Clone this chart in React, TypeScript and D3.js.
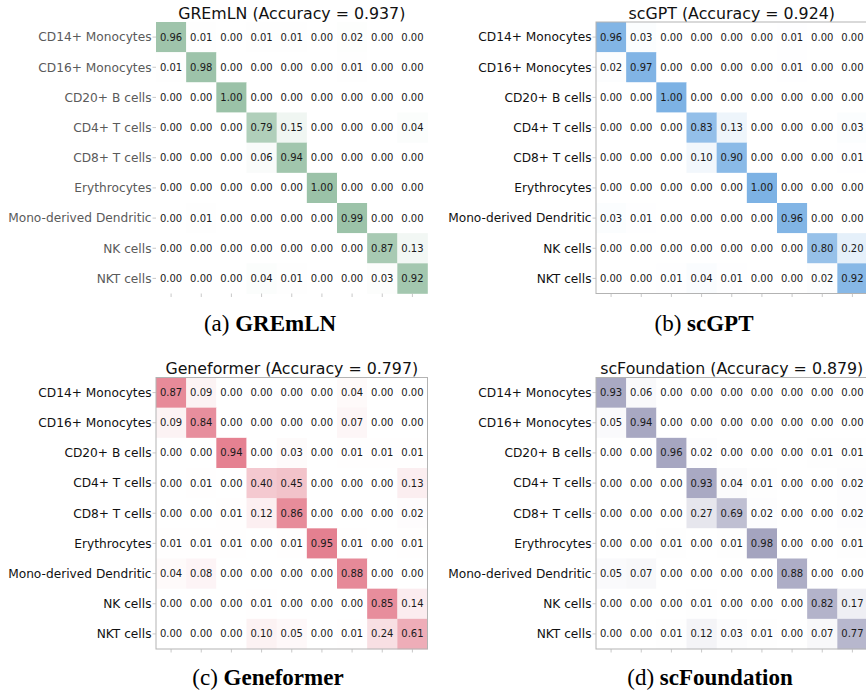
import React from 'react';
import * as d3 from 'd3';

const cellTypes = [
  'CD14+ Monocytes',
  'CD16+ Monocytes',
  'CD20+ B cells',
  'CD4+ T cells',
  'CD8+ T cells',
  'Erythrocytes',
  'Mono-derived Dendritic',
  'NK cells',
  'NKT cells',
];

const gremlnMatrix = [
  [0.96, 0.01, 0.0, 0.01, 0.01, 0.0, 0.02, 0.0, 0.0],
  [0.01, 0.98, 0.0, 0.0, 0.0, 0.0, 0.01, 0.0, 0.0],
  [0.0, 0.0, 1.0, 0.0, 0.0, 0.0, 0.0, 0.0, 0.0],
  [0.0, 0.0, 0.0, 0.79, 0.15, 0.0, 0.0, 0.0, 0.04],
  [0.0, 0.0, 0.0, 0.06, 0.94, 0.0, 0.0, 0.0, 0.0],
  [0.0, 0.0, 0.0, 0.0, 0.0, 1.0, 0.0, 0.0, 0.0],
  [0.0, 0.01, 0.0, 0.0, 0.0, 0.0, 0.99, 0.0, 0.0],
  [0.0, 0.0, 0.0, 0.0, 0.0, 0.0, 0.0, 0.87, 0.13],
  [0.0, 0.0, 0.0, 0.04, 0.01, 0.0, 0.0, 0.03, 0.92],
];

const scgptMatrix = [
  [0.96, 0.03, 0.0, 0.0, 0.0, 0.0, 0.01, 0.0, 0.0],
  [0.02, 0.97, 0.0, 0.0, 0.0, 0.0, 0.01, 0.0, 0.0],
  [0.0, 0.0, 1.0, 0.0, 0.0, 0.0, 0.0, 0.0, 0.0],
  [0.0, 0.0, 0.0, 0.83, 0.13, 0.0, 0.0, 0.0, 0.03],
  [0.0, 0.0, 0.0, 0.1, 0.9, 0.0, 0.0, 0.0, 0.01],
  [0.0, 0.0, 0.0, 0.0, 0.0, 1.0, 0.0, 0.0, 0.0],
  [0.03, 0.01, 0.0, 0.0, 0.0, 0.0, 0.96, 0.0, 0.0],
  [0.0, 0.0, 0.0, 0.0, 0.0, 0.0, 0.0, 0.8, 0.2],
  [0.0, 0.0, 0.01, 0.04, 0.01, 0.0, 0.0, 0.02, 0.92],
];

const geneformerMatrix = [
  [0.87, 0.09, 0.0, 0.0, 0.0, 0.0, 0.04, 0.0, 0.0],
  [0.09, 0.84, 0.0, 0.0, 0.0, 0.0, 0.07, 0.0, 0.0],
  [0.0, 0.0, 0.94, 0.0, 0.03, 0.0, 0.01, 0.01, 0.01],
  [0.0, 0.01, 0.0, 0.4, 0.45, 0.0, 0.0, 0.0, 0.13],
  [0.0, 0.0, 0.01, 0.12, 0.86, 0.0, 0.0, 0.0, 0.02],
  [0.01, 0.01, 0.01, 0.0, 0.01, 0.95, 0.01, 0.0, 0.01],
  [0.04, 0.08, 0.0, 0.0, 0.0, 0.0, 0.88, 0.0, 0.0],
  [0.0, 0.0, 0.0, 0.01, 0.0, 0.0, 0.0, 0.85, 0.14],
  [0.0, 0.0, 0.0, 0.1, 0.05, 0.0, 0.01, 0.24, 0.61],
];

const scfoundationMatrix = [
  [0.93, 0.06, 0.0, 0.0, 0.0, 0.0, 0.0, 0.0, 0.0],
  [0.05, 0.94, 0.0, 0.0, 0.0, 0.0, 0.0, 0.0, 0.0],
  [0.0, 0.0, 0.96, 0.02, 0.0, 0.0, 0.0, 0.01, 0.01],
  [0.0, 0.0, 0.0, 0.93, 0.04, 0.01, 0.0, 0.0, 0.02],
  [0.0, 0.0, 0.0, 0.27, 0.69, 0.02, 0.0, 0.0, 0.02],
  [0.0, 0.0, 0.01, 0.0, 0.01, 0.98, 0.0, 0.0, 0.01],
  [0.05, 0.07, 0.0, 0.0, 0.0, 0.0, 0.88, 0.0, 0.0],
  [0.0, 0.0, 0.0, 0.01, 0.0, 0.0, 0.0, 0.82, 0.17],
  [0.0, 0.0, 0.01, 0.12, 0.03, 0.01, 0.0, 0.07, 0.77],
];

const modelNames = ['GREmLN', 'scGPT', 'Geneformer', 'scFoundation'];
const accuracies = [0.937, 0.924, 0.797, 0.879];
const captionLetters = ['(a)', '(b)', '(c)', '(d)'];
const maxColors = ['#9bc2a8', '#7db2e4', '#e3798a', '#a2a2be'];

// panel placement (grid top-left corner, caption centre)
const panels = [
  { x: 156, y: 22, capX: 270, capY: 331, frame: false, labelColor: '#5a5a5a' },
  { x: 596, y: 22, capX: 704, capY: 331, frame: true, labelColor: '#111' },
  { x: 156, y: 377.5, capX: 268, capY: 685, frame: true, labelColor: '#111' },
  { x: 596, y: 377.5, capX: 710, capY: 685, frame: true, labelColor: '#111' },
];

const matrices = [gremlnMatrix, scgptMatrix, geneformerMatrix, scfoundationMatrix];

const gridW = 271.5;
const gridH = 271.5;
const sans = '"DejaVu Sans", sans-serif';

function Heatmap({ idx }: { idx: number }) {
  const p = panels[idx];
  const data = matrices[idx];
  const xScale = d3.scaleBand<number>().domain(d3.range(9)).range([0, gridW]);
  const yScale = d3.scaleBand<string>().domain(cellTypes).range([0, gridH]);
  const color = d3.scaleLinear<string>().domain([0, 1]).range(['#ffffff', maxColors[idx]]);
  const bw = xScale.bandwidth();
  const bh = yScale.bandwidth();

  return (
    <g>
      <g transform={`translate(${p.x},${p.y})`}>
        {data.map((row, r) =>
          row.map((v, c) => (
            <g key={`${r}-${c}`}>
              <rect
                x={xScale(c)}
                y={yScale(cellTypes[r])}
                width={bw + 0.3}
                height={bh + 0.3}
                fill={color(v)}
              />
              <text
                x={(xScale(c) as number) + bw / 2}
                y={(yScale(cellTypes[r]) as number) + bh / 2}
                dy="0.35em"
                textAnchor="middle"
                fontFamily={sans}
                fontSize={10}
                fill="#1a1a1a"
              >
                {d3.format('.2f')(v)}
              </text>
            </g>
          ))
        )}
        {p.frame && (
          <rect x={0} y={0} width={gridW} height={gridH} fill="none" stroke="#b3b3b3" strokeWidth={1} />
        )}
        {cellTypes.map((name) => {
          const cy = (yScale(name) as number) + bh / 2;
          return (
            <g key={name}>
              <line x1={-3.5} x2={0} y1={cy} y2={cy} stroke="#bbb" strokeWidth={0.8} />
              <text
                x={-4.5}
                y={cy}
                dy="0.35em"
                textAnchor="end"
                fontFamily={sans}
                fontSize={12.2}
                fill={p.labelColor}
              >
                {name}
              </text>
            </g>
          );
        })}
        {d3.range(9).map((c) => {
          const cx = (xScale(c) as number) + bw / 2;
          return <line key={c} x1={cx} x2={cx} y1={gridH} y2={gridH + 3.5} stroke="#bbb" strokeWidth={0.8} />;
        })}
        <text
          x={gridW / 2}
          y={-3.5}
          textAnchor="middle"
          fontFamily={sans}
          fontSize={15.8}
          fill="#111"
        >
          {`${modelNames[idx]} (Accuracy = ${accuracies[idx].toFixed(3)})`}
        </text>
      </g>
      <text
        x={p.capX}
        y={p.capY}
        textAnchor="middle"
        fontFamily='"Liberation Serif", "Times New Roman", serif'
        fontSize={23}
        fill="#000"
      >
        {captionLetters[idx]} <tspan fontWeight="bold">{modelNames[idx]}</tspan>
      </text>
    </g>
  );
}

export default function App() {
  return (
    <div style={{ position: 'absolute', left: 0, top: 0, width: 866, height: 691, background: '#fff' }}>
      <svg width={866} height={691} style={{ display: 'block' }}>
        <rect width={866} height={691} fill="#fff" />
        {panels.map((_, i) => (
          <Heatmap key={i} idx={i} />
        ))}
      </svg>
    </div>
  );
}
